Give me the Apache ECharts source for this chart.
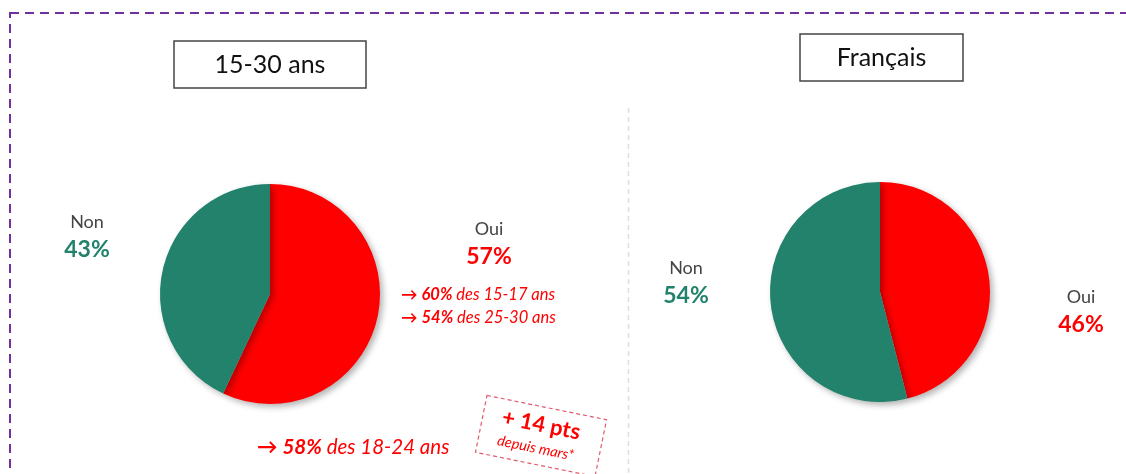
<!DOCTYPE html>
<html>
<head>
<meta charset="utf-8">
<script src="https://cdn.jsdelivr.net/npm/echarts@6/dist/echarts.min.js"></script>
<style>
  html, body { margin: 0; padding: 0; background: #fff; }
  #chart { width: 1126px; height: 474px; }
</style>
</head>
<body>
<div id="chart"></div>
<script>
const groups = ['15-30 ans', 'Français'];
const answers = ['Oui', 'Non'];
const youngValues = [57, 43];
const allValues = [46, 54];
const subLines = [['60%', 'des 15-17 ans'], ['54%', 'des 25-30 ans']];
const bottomLine = ['58%', 'des 18-24 ans'];
const deltaText = ['+ 14 pts', 'depuis mars*'];

const RED = '#ff0000';
const GREEN = '#22826c';
const FONT = 'Lato, "Open Sans", sans-serif';

const chart = echarts.init(document.getElementById('chart'), null, { renderer: 'canvas' });

function pieData(values) {
  return answers.map((name, i) => ({
    name,
    value: values[i],
    itemStyle: { color: i === 0 ? RED : GREEN },
  }));
}

function pieSeries(center, values) {
  return {
    type: 'pie',
    center,
    radius: [0, 110],
    startAngle: 90,
    clockwise: true,
    silent: true,
    label: { show: false },
    labelLine: { show: false },
    itemStyle: {
      shadowBlur: 6,
      shadowOffsetX: 3,
      shadowOffsetY: 3,
      shadowColor: 'rgba(0,0,0,0.3)',
    },
    data: pieData(values),
  };
}

function titleBox(x, y, w, h, text) {
  return {
    type: 'group',
    children: [
      { type: 'rect', shape: { x, y, width: w, height: h }, style: { fill: '#fff', stroke: '#444', lineWidth: 1.5 } },
      { type: 'text', x: x + w / 2, y: y + h / 2, style: { text, fill: '#111', font: `25px ${FONT}`, align: 'center', verticalAlign: 'middle' } },
    ],
  };
}

function answerLabel(x, y, name, value, color) {
  return {
    type: 'group',
    children: [
      { type: 'text', x, y, style: { text: name, fill: '#444', font: `18px ${FONT}`, align: 'center', verticalAlign: 'middle' } },
      { type: 'text', x, y: y + 28, style: { text: value + '%', fill: color, font: `bold 23px ${FONT}`, align: 'center', verticalAlign: 'middle' } },
    ],
  };
}

function arrowLine(x, y, pair, size) {
  return {
    type: 'text', x, y,
    style: {
      text: `{a|→ }{b|${pair[0]}}{c| ${pair[1]}}`,
      verticalAlign: 'middle',
      rich: {
        a: { fill: RED, font: `bold ${size}px ${FONT}` },
        b: { fill: RED, font: `italic bold ${size}px ${FONT}` },
        c: { fill: RED, font: `italic ${size}px ${FONT}` },
      },
    },
  };
}

chart.setOption({
  animation: false,
  series: [
    pieSeries([270, 294], youngValues),
    pieSeries([880, 292], allValues),
  ],
  graphic: [
    { type: 'rect', shape: { x: 10, y: 13, width: 1300, height: 600 }, style: { fill: 'none', stroke: '#7030a0', lineWidth: 2, lineDash: [9, 6] } },
    { type: 'line', shape: { x1: 628.5, y1: 108, x2: 628.5, y2: 474 }, style: { stroke: '#dddddd', lineWidth: 1.5, lineDash: [5, 4] } },
    titleBox(174, 41, 192, 47, groups[0]),
    titleBox(800, 34, 163, 47, groups[1]),
    answerLabel(87, 222, answers[1], youngValues[1], GREEN),
    answerLabel(489, 229, answers[0], youngValues[0], RED),
    answerLabel(686, 268, answers[1], allValues[1], GREEN),
    answerLabel(1081, 297, answers[0], allValues[0], RED),
    arrowLine(401, 295, subLines[0], 16.5),
    arrowLine(401, 318, subLines[1], 16.5),
    arrowLine(257, 447, bottomLine, 20.5),
    {
      type: 'group', x: 541, y: 436, rotation: -0.2,
      children: [
        { type: 'rect', shape: { x: -61, y: -29, width: 122, height: 58 }, style: { fill: 'none', stroke: '#e05a6a', lineWidth: 1.2, lineDash: [4, 3] } },
        { type: 'text', x: -2, y: -11, style: { text: deltaText[0], fill: RED, font: `bold 22px ${FONT}`, align: 'center', verticalAlign: 'middle' } },
        { type: 'text', x: -3, y: 13, style: { text: deltaText[1], fill: RED, font: `italic 14.5px ${FONT}`, align: 'center', verticalAlign: 'middle' } },
      ],
    },
  ],
});
</script>
</body>
</html>
